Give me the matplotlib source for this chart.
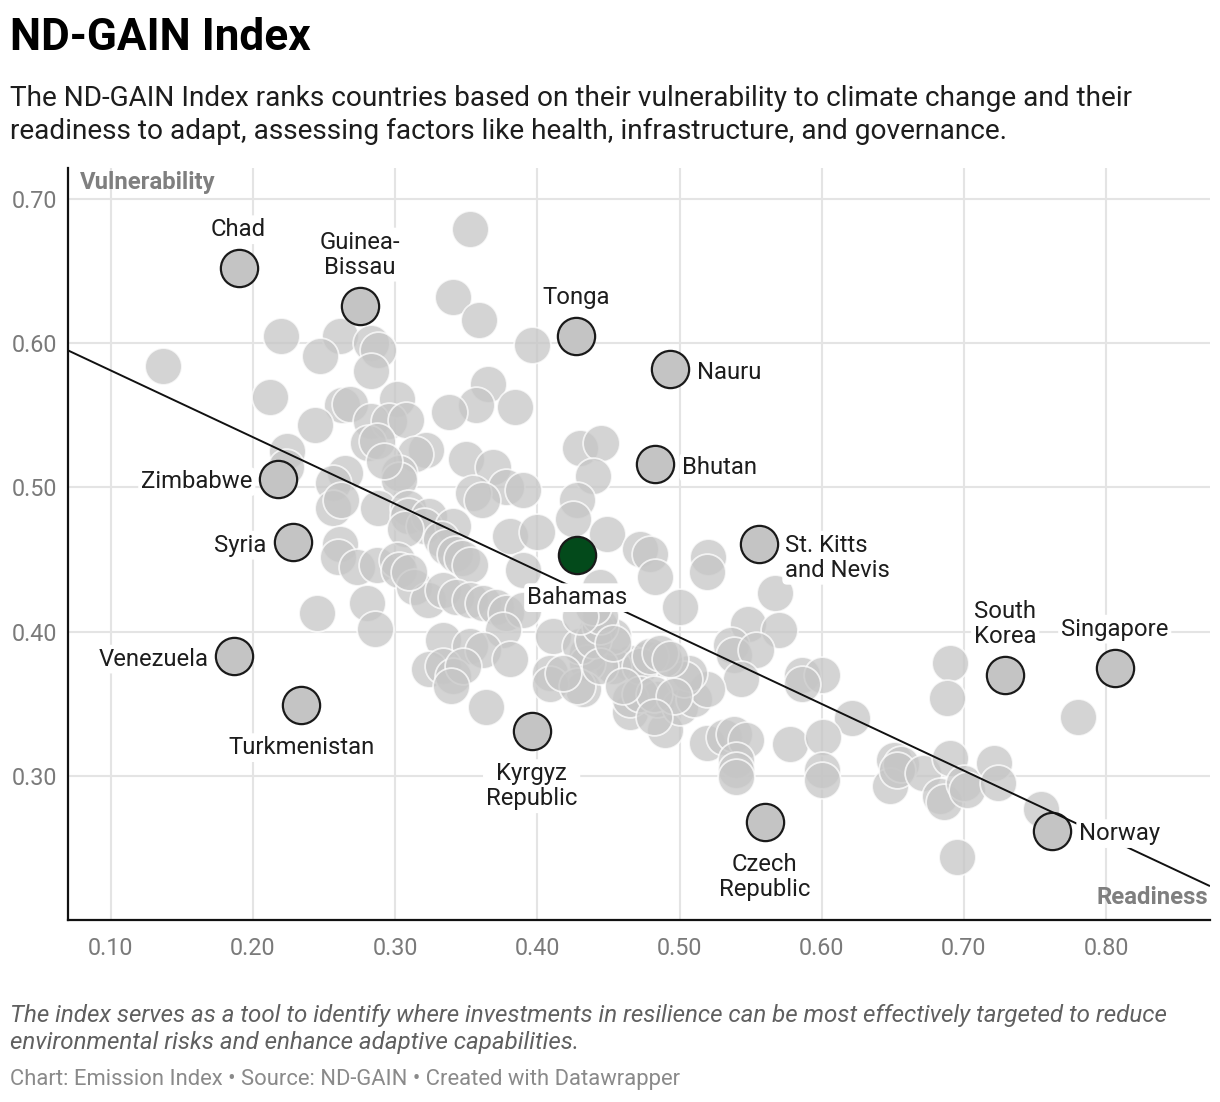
import matplotlib
matplotlib.use("Agg")
import matplotlib.pyplot as plt
import numpy as np

plt.rcParams['font.family'] = ['Roboto', 'DejaVu Sans']

# ---------------- data ----------------
# unlabeled countries: readiness (x), vulnerability (y)
other_x = [
    0.353, 0.341, 0.359, 0.396, 0.137, 0.220, 0.261, 0.283, 0.288, 0.247,
    0.283, 0.212, 0.301, 0.263, 0.268, 0.365, 0.357, 0.338, 0.384, 0.244,
    0.283, 0.296, 0.308, 0.281, 0.287, 0.322, 0.314, 0.224, 0.430, 0.445,
    0.439, 0.350, 0.369, 0.378, 0.303, 0.303, 0.292, 0.265, 0.256, 0.223,
    0.355, 0.361, 0.390, 0.256, 0.262, 0.288, 0.309, 0.309, 0.324, 0.320,
    0.307, 0.341, 0.332, 0.336, 0.342, 0.347, 0.353, 0.381, 0.400, 0.261,
    0.260, 0.273, 0.287, 0.301, 0.303, 0.390, 0.245, 0.280, 0.286, 0.313,
    0.323, 0.310, 0.334, 0.343, 0.353, 0.362, 0.371, 0.378, 0.390, 0.376,
    0.334, 0.353, 0.362, 0.381, 0.324, 0.334, 0.341, 0.348, 0.339, 0.364,
    0.428, 0.425, 0.449, 0.472, 0.479, 0.483, 0.520, 0.519, 0.500, 0.567,
    0.548, 0.570, 0.536, 0.538, 0.554, 0.543, 0.586, 0.600, 0.586, 0.621,
    0.578, 0.601, 0.600, 0.600, 0.519, 0.531, 0.538, 0.547, 0.540, 0.540,
    0.540, 0.490, 0.465, 0.484, 0.500, 0.510, 0.519, 0.507, 0.503, 0.477,
    0.489, 0.465, 0.453, 0.453, 0.442, 0.435, 0.435, 0.432, 0.465, 0.411,
    0.409, 0.409, 0.428, 0.430, 0.439, 0.444, 0.444, 0.444, 0.453, 0.472,
    0.479, 0.486, 0.493, 0.472, 0.482, 0.496, 0.482, 0.444, 0.439, 0.430,
    0.651, 0.648, 0.690, 0.688, 0.780, 0.656, 0.653, 0.671, 0.690, 0.683,
    0.686, 0.700, 0.702, 0.721, 0.724, 0.754, 0.695, 0.418, 0.460,
]
other_y = [
    0.679, 0.632, 0.616, 0.599, 0.584, 0.605, 0.605, 0.600, 0.595, 0.591,
    0.581, 0.563, 0.561, 0.557, 0.558, 0.572, 0.557, 0.552, 0.556, 0.543,
    0.546, 0.546, 0.547, 0.531, 0.532, 0.526, 0.523, 0.525, 0.527, 0.531,
    0.508, 0.520, 0.514, 0.500, 0.510, 0.505, 0.518, 0.510, 0.503, 0.514,
    0.496, 0.491, 0.498, 0.486, 0.491, 0.486, 0.486, 0.480, 0.480, 0.473,
    0.471, 0.473, 0.464, 0.459, 0.454, 0.451, 0.446, 0.466, 0.469, 0.461,
    0.452, 0.445, 0.446, 0.450, 0.443, 0.443, 0.413, 0.420, 0.402, 0.431,
    0.422, 0.441, 0.429, 0.424, 0.422, 0.420, 0.417, 0.413, 0.415, 0.401,
    0.394, 0.390, 0.387, 0.381, 0.374, 0.376, 0.369, 0.376, 0.362, 0.348,
    0.491, 0.478, 0.468, 0.457, 0.454, 0.438, 0.452, 0.441, 0.417, 0.427,
    0.405, 0.401, 0.391, 0.384, 0.387, 0.367, 0.370, 0.370, 0.364, 0.340,
    0.322, 0.327, 0.304, 0.297, 0.323, 0.327, 0.329, 0.325, 0.311, 0.304,
    0.299, 0.332, 0.344, 0.353, 0.348, 0.353, 0.360, 0.371, 0.367, 0.381,
    0.381, 0.378, 0.376, 0.397, 0.401, 0.385, 0.378, 0.360, 0.353, 0.397,
    0.371, 0.364, 0.362, 0.390, 0.394, 0.404, 0.411, 0.376, 0.392, 0.376,
    0.383, 0.385, 0.381, 0.357, 0.357, 0.355, 0.341, 0.431, 0.417, 0.411,
    0.311, 0.293, 0.378, 0.354, 0.341, 0.308, 0.304, 0.302, 0.312, 0.286,
    0.282, 0.295, 0.290, 0.309, 0.295, 0.277, 0.244, 0.371, 0.362,
]

# highlighted / labeled countries
label_names = ["Chad", "Guinea-\nBissau", "Tonga", "Nauru", "Bhutan", "Zimbabwe",
               "Syria", "St. Kitts\nand Nevis", "Bahamas", "Venezuela",
               "Turkmenistan", "Kyrgyz\nRepublic", "South\nKorea", "Singapore",
               "Czech\nRepublic", "Norway"]
label_x = [0.190, 0.275, 0.427, 0.493, 0.483, 0.218, 0.228, 0.556, 0.428, 0.187,
           0.234, 0.396, 0.729, 0.806, 0.560, 0.762]
label_y = [0.652, 0.626, 0.605, 0.582, 0.516, 0.506, 0.462, 0.461, 0.453, 0.383,
           0.349, 0.331, 0.370, 0.375, 0.268, 0.262]
label_pos = ["top", "top", "top", "right", "right", "left", "left", "right2",
             "bottom", "left", "bottom", "bottom", "top", "top", "bottom", "right"]
highlight = "Bahamas"

# trend line (end points)
trend_x = [0.070, 0.873]
trend_y = [0.595, 0.2235]

x_ticks = [0.10, 0.20, 0.30, 0.40, 0.50, 0.60, 0.70, 0.80]
y_ticks = [0.30, 0.40, 0.50, 0.60, 0.70]

# ---------------- figure ----------------
W, H = 1220, 1102
fig = plt.figure(figsize=(W / 100, H / 100), dpi=100)
ax = fig.add_axes([68 / W, 1 - 920 / H, (1210 - 68) / W, (920 - 168) / H])
ax.set_xlim(0.070, 0.873)
ax.set_ylim(0.200, 0.7215)

ax.set_xticks(x_ticks)
ax.set_yticks(y_ticks)
ax.set_xticklabels([f"{v:.2f}" for v in x_ticks])
ax.set_yticklabels([f"{v:.2f}" for v in y_ticks])
ax.tick_params(length=0, labelsize=16.8, labelcolor="#7a7a7a", pad=7.5)
ax.tick_params(axis="x", pad=12)
ax.grid(True, color="#e4e4e4", lw=1.5, zorder=0)
ax.set_axisbelow(True)
for s in ["top", "right"]:
    ax.spines[s].set_visible(False)
for s in ["left", "bottom"]:
    ax.spines[s].set_linewidth(1.6)
    ax.spines[s].set_color("#111111")

# unlabeled dots
ax.scatter(other_x, other_y, s=700, c="#c6c6c6", alpha=0.75,
           edgecolors="white", linewidths=1.3, zorder=2)

# labeled dots
for n, x, y in zip(label_names, label_x, label_y):
    fc = "#034a1b" if n == highlight else "#c4c4c4"
    ax.scatter([x], [y], s=720, c=fc, edgecolors="#1a1a1a", linewidths=1.6, zorder=3)

# trend line
ax.plot(trend_x, trend_y, color="#111111", lw=1.4, zorder=4, solid_capstyle="butt")

# labels
bbox = dict(boxstyle="round,pad=0.12,rounding_size=0.2", fc="white", ec="none")
for n, x, y, p in zip(label_names, label_x, label_y, label_pos):
    if p == "top":
        off, ha, va = (0, 27), "center", "bottom"
    elif p == "bottom":
        off, ha, va = (0, -31), "center", "top"
    elif p == "left":
        off, ha, va = (-26, -3), "right", "center"
    elif p == "right":
        off, ha, va = (27, -3), "left", "center"
    else:  # right, two lines, first line centred on dot
        off, ha, va = (26, 10), "left", "top"
    ax.annotate(n, (x, y), xytext=off, textcoords="offset pixels", ha=ha, va=va,
                ma="center" if p in ("top", "bottom") else "left",
                fontsize=17.2, color="#1d1d1d", linespacing=1.12,
                bbox=bbox, zorder=6)

# axis titles inside the plot
fig.text(80 / W, 1 - 182 / H, "Vulnerability", fontsize=17.2, fontweight="bold",
         color="#7f7f7f", ha="left", va="center")
fig.text(1208 / W, 1 - 898 / H, "Readiness", fontsize=17.2, fontweight="bold",
         color="#7f7f7f", ha="right", va="center")

# title / subtitle / notes
fig.text(10 / W, 1 - 50 / H, "ND-GAIN Index", fontsize=31.8, fontweight="bold",
         color="#000000", ha="left", va="baseline")
fig.text(10 / W, 1 - 106 / H,
         "The ND-GAIN Index ranks countries based on their vulnerability to climate change and their",
         fontsize=20.2, color="#1d1d1d", ha="left", va="baseline")
fig.text(10 / W, 1 - 139 / H,
         "readiness to adapt, assessing factors like health, infrastructure, and governance.",
         fontsize=20.2, color="#1d1d1d", ha="left", va="baseline")
fig.text(10 / W, 1 - 1022 / H,
         "The index serves as a tool to identify where investments in resilience can be most effectively targeted to reduce",
         fontsize=17.4, fontstyle="italic", color="#606060", ha="left", va="baseline")
fig.text(10 / W, 1 - 1049 / H,
         "environmental risks and enhance adaptive capabilities.",
         fontsize=17.4, fontstyle="italic", color="#606060", ha="left", va="baseline")
fig.text(10 / W, 1 - 1085 / H,
         "Chart: Emission Index \u2022 Source: ND-GAIN \u2022 Created with Datawrapper",
         fontsize=15.8, color="#8a8a8a", ha="left", va="baseline")

fig.savefig("out.png", dpi=100, facecolor="white")
